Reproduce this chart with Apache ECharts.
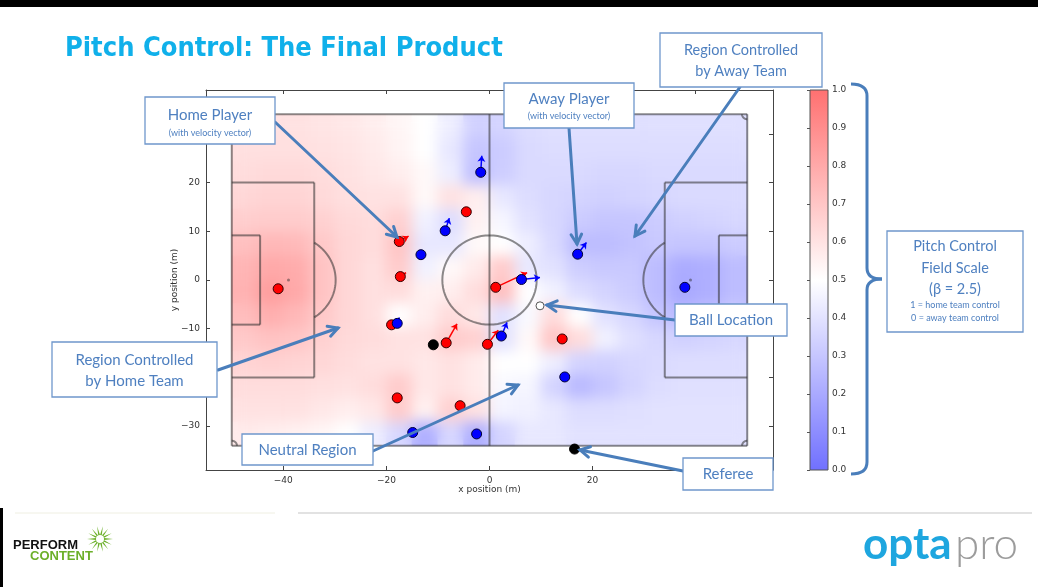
<!DOCTYPE html>
<html>
<head>
<meta charset="utf-8">
<script src="https://cdn.jsdelivr.net/npm/echarts@6/dist/echarts.min.js"></script>
<style>
html, body { margin: 0; padding: 0; background: #fff; }
#wrap { position: relative; width: 1038px; height: 587px; overflow: hidden; }
.layer { position: absolute; left: 0; top: 0; width: 1038px; height: 587px; }
</style>
</head>
<body>
<div id="wrap">
  <div id="fieldSharp" class="layer"></div>
  <div id="fieldSoft" class="layer"></div>
  <div id="chart" class="layer"></div>
</div>
<script>
// pitch control surface (1 = home control, 0 = away control)
var fieldX = [-47.5, -42.5, -37.5, -32.5, -27.5, -22.5, -17.5, -12.5, -7.5, -2.5,
              2.5, 7.5, 12.5, 17.5, 22.5, 27.5, 32.5, 37.5, 42.5, 47.5]
var fieldY = [31.57, 26.71, 21.86, 17.0, 12.14, 7.29, 2.43, -2.43, -7.29, -12.14, -17.0, -21.86, -26.71, -31.57]
var field = [
  [0.60,0.60,0.60,0.59,0.58,0.56,0.53,0.50,0.44,0.34,0.35,0.38,0.39,0.39,0.39,0.39,0.39,0.39,0.39,0.39],
  [0.61,0.61,0.61,0.60,0.59,0.57,0.54,0.50,0.42,0.30,0.32,0.37,0.38,0.38,0.38,0.38,0.38,0.38,0.38,0.38],
  [0.62,0.63,0.63,0.62,0.60,0.58,0.56,0.52,0.44,0.28,0.33,0.37,0.37,0.37,0.36,0.36,0.37,0.37,0.37,0.37],
  [0.64,0.65,0.65,0.63,0.61,0.60,0.60,0.52,0.60,0.56,0.42,0.38,0.36,0.35,0.34,0.35,0.36,0.37,0.37,0.37],
  [0.67,0.68,0.68,0.66,0.63,0.62,0.66,0.45,0.38,0.55,0.47,0.40,0.36,0.32,0.30,0.30,0.32,0.34,0.35,0.36],
  [0.72,0.75,0.74,0.69,0.64,0.62,0.70,0.42,0.42,0.52,0.50,0.44,0.37,0.27,0.27,0.29,0.31,0.30,0.30,0.32],
  [0.76,0.80,0.79,0.71,0.64,0.61,0.68,0.45,0.52,0.57,0.68,0.42,0.40,0.33,0.31,0.31,0.27,0.21,0.22,0.27],
  [0.77,0.84,0.80,0.71,0.64,0.61,0.62,0.55,0.56,0.62,0.72,0.50,0.45,0.38,0.35,0.32,0.27,0.20,0.22,0.27],
  [0.73,0.78,0.75,0.69,0.64,0.61,0.50,0.56,0.62,0.58,0.40,0.48,0.62,0.50,0.40,0.36,0.30,0.26,0.28,0.32],
  [0.69,0.71,0.70,0.66,0.63,0.62,0.60,0.60,0.68,0.66,0.40,0.52,0.70,0.62,0.45,0.39,0.36,0.34,0.35,0.36],
  [0.65,0.66,0.65,0.64,0.62,0.60,0.60,0.58,0.60,0.57,0.50,0.50,0.44,0.35,0.34,0.36,0.37,0.38,0.38,0.38],
  [0.62,0.62,0.62,0.61,0.60,0.62,0.68,0.58,0.60,0.57,0.48,0.47,0.35,0.26,0.30,0.35,0.38,0.39,0.39,0.39],
  [0.60,0.60,0.60,0.58,0.56,0.58,0.68,0.55,0.66,0.60,0.46,0.45,0.42,0.38,0.38,0.39,0.40,0.40,0.40,0.40],
  [0.57,0.56,0.55,0.53,0.50,0.44,0.36,0.22,0.36,0.22,0.35,0.42,0.42,0.40,0.40,0.40,0.40,0.40,0.40,0.40]
]

// players (m) and velocity vectors (end offset, m)
var homeX  = [-41.0, -17.5, -17.3, -19.0, -8.4, -0.4, 1.2, -4.5, -17.9, -5.7, 14.1]
var homeY  = [-1.8, 7.9, 0.7, -9.2, -12.9, -13.2, -1.5, 14.0, -24.2, -25.8, -12.1]
var homeVx = [0, 1.8, 1.1, 0, 2.1, 2.1, 6.1, 0.6, 0, 0, 0]
var homeVy = [0, 1.1, 0.8, 0, 3.9, 2.9, 3.0, 0.6, 0, 0, 0]
var awayX  = [-17.9, 2.3, 6.2, -1.7, -8.6, -13.3, -14.9, -2.5, 14.6, 37.9, 17.1]
var awayY  = [-8.9, -11.5, 0.1, 22.1, 10.1, 5.2, -31.3, -31.6, -19.9, -1.5, 5.3]
var awayVx = [0.4, 1.1, 3.6, 0.2, 0.8, 0.9, 0.9, 0.9, 0, 0, 1.7]
var awayVy = [1.2, 2.8, 0.4, 3.4, 2.6, -0.1, 0, 0, 0, 0, 2.4]
var refX = [-10.9, 16.5]
var refY = [-13.3, -34.7]
var ball = [9.8, -5.3]

var xTicks = [-40, -20, 0, 20, 40]
var yTicks = [-30, -20, -10, 0, 10, 20, 30]
var cbarTicks = [0, 0.1, 0.2, 0.3, 0.4, 0.5, 0.6, 0.7, 0.8, 0.9, 1.0]

// pitch markings (m)
var pitchLines = [
  [-50, -34, 50, -34], [50, -34, 50, 34], [50, 34, -50, 34], [-50, 34, -50, -34],
  [0, -34, 0, 34],
  [-50, 20, -34, 20], [-34, 20, -34, -20], [-34, -20, -50, -20],
  [-50, 9.16, -44.5, 9.16], [-44.5, 9.16, -44.5, -9.16], [-44.5, -9.16, -50, -9.16],
  [50, 20, 34, 20], [34, 20, 34, -20], [34, -20, 50, -20],
  [50, 9.16, 44.5, 9.16], [44.5, 9.16, 44.5, -9.16], [44.5, -9.16, 50, -9.16]
]
var pitchArcs = [
  [0, 0, 9.15, 0, 360], [-39, 0, 9.15, -56.9, 56.9], [39, 0, 9.15, 123.1, 236.9],
  [-50, -34, 1, 0, 90], [50, -34, 1, 90, 180], [50, 34, 1, 180, 270], [-50, 34, 1, 270, 360]
]
var penaltySpots = [[-39, 0], [39, 0]]

var cmap = ['#7070ff', '#ffffff', '#ff7070']
var blue = '#4a7ebb'
var boxText = '#4f80c0'
var tickFont = 'DejaVu Sans'

function minus(v) { return v < 0 ? '\u2212' + Math.abs(v) : String(v) }

var gridMain = { left: 206, top: 90, width: 567, height: 380 }

// ---------- heat field ----------
var fieldData = []
for (var r = 0; r < fieldY.length; r++) {
  for (var c = 0; c < fieldX.length; c++) {
    fieldData.push([fieldX[c], fieldY[r], field[r][c]])
  }
}
var cellW = fieldX[1] - fieldX[0]
var cellH = fieldY[0] - fieldY[1]

var fieldOption = {
  animation: false,
  grid: gridMain,
  xAxis: { type: 'value', min: -55, max: 55, show: false },
  yAxis: { type: 'value', min: -39, max: 39, show: false },
  visualMap: { show: false, type: 'continuous', min: 0, max: 1, dimension: 2, seriesIndex: 0, inRange: { color: cmap } },
  series: [{
    type: 'custom',
    data: fieldData,
    renderItem: function (params, api) {
      var x = api.value(0), y = api.value(1)
      var p0 = api.coord([x - cellW / 2, y + cellH / 2])
      var p1 = api.coord([x + cellW / 2, y - cellH / 2])
      var col = api.visual('color')
      return {
        type: 'rect',
        shape: { x: p0[0], y: p0[1], width: p1[0] - p0[0], height: p1[1] - p0[1] },
        style: { fill: col, stroke: col, lineWidth: 0.8 }
      }
    }
  }]
}

var sharp = echarts.init(document.getElementById('fieldSharp'))
sharp.setOption(fieldOption)
var softDom = document.getElementById('fieldSoft')
softDom.style.filter = 'blur(7px)'
var soft = echarts.init(softDom)
soft.setOption(fieldOption)
var tl = soft.convertToPixel({ gridIndex: 0 }, [-50, 34])
var br = soft.convertToPixel({ gridIndex: 0 }, [50, -34])
softDom.style.clipPath = 'inset(' + tl[1] + 'px ' + (1038 - br[0]) + 'px ' + (587 - br[1]) + 'px ' + tl[0] + 'px)'

// ---------- main chart ----------
function arrowData(xs, ys, vxs, vys) {
  var out = []
  xs.forEach(function (x, i) {
    if (vxs[i] || vys[i]) out.push({ coords: [[x, ys[i]], [x + vxs[i], ys[i] + vys[i]]] })
  })
  return out
}
function pts(xs, ys) { return xs.map(function (x, i) { return [x, ys[i]] }) }

var lineStyleLines = { stroke: 'rgba(45,45,45,0.55)', lineWidth: 2, fill: null }

function annBox(x, y, w, h, lines) {
  var children = [{ type: 'rect', z: 50, shape: { x: x, y: y, width: w, height: h }, style: { fill: '#fff', stroke: '#6f97cc', lineWidth: 1.3 } }]
  lines.forEach(function (l) {
    children.push({ type: 'text', z: 51, x: x + w / 2, y: l[1], style: { text: l[0], fill: boxText, font: l[2] + 'px Lato, "Open Sans", sans-serif', align: 'center', verticalAlign: 'middle' } })
  })
  return { type: 'group', children: children }
}
function annArrow(x1, y1, x2, y2) {
  var a = Math.atan2(y1 - y2, x1 - x2), L = 11, s = 0.5
  return {
    type: 'group',
    children: [
      { type: 'line', z: 45, shape: { x1: x1, y1: y1, x2: x2, y2: y2 }, style: { stroke: blue, lineWidth: 3, lineCap: 'round' } },
      { type: 'polyline', z: 45, shape: { points: [[x2 + L * Math.cos(a + s), y2 + L * Math.sin(a + s)], [x2, y2], [x2 + L * Math.cos(a - s), y2 + L * Math.sin(a - s)]] },
        style: { stroke: blue, lineWidth: 3, lineCap: 'round', lineJoin: 'miter', fill: null } }
    ]
  }
}
function starburst(cx, cy, n, r1, r2) {
  var p = []
  for (var i = 0; i < n * 2; i++) {
    var rr = i % 2 ? r2 : r1, t = Math.PI * i / n
    p.push([cx + rr * Math.cos(t), cy + rr * Math.sin(t)])
  }
  return p
}
var bracketStyle = { stroke: blue, lineWidth: 3, fill: null }
var bracket = {
  type: 'group',
  children: [
    { type: 'bezierCurve', z: 45, shape: { x1: 851, y1: 84, cpx1: 867, cpy1: 84, x2: 867, y2: 96 }, style: bracketStyle },
    { type: 'line', z: 45, shape: { x1: 867, y1: 96, x2: 867, y2: 268 }, style: bracketStyle },
    { type: 'bezierCurve', z: 45, shape: { x1: 867, y1: 268, cpx1: 867, cpy1: 279, x2: 882, y2: 279 }, style: bracketStyle },
    { type: 'bezierCurve', z: 45, shape: { x1: 882, y1: 279, cpx1: 867, cpy1: 279, x2: 867, y2: 290 }, style: bracketStyle },
    { type: 'line', z: 45, shape: { x1: 867, y1: 290, x2: 867, y2: 462 }, style: bracketStyle },
    { type: 'bezierCurve', z: 45, shape: { x1: 867, y1: 462, cpx1: 867, cpy1: 474, x2: 851, y2: 474 }, style: bracketStyle }
  ]
}

var axisLineStyle = { color: '#444', width: 1 }
var option = {
  backgroundColor: 'transparent',
  animation: false,
  grid: [gridMain, { left: 810, top: 90, width: 18, height: 380 }],
  xAxis: [
    { gridIndex: 0, type: 'value', min: -55, max: 55, position: 'bottom',
      name: 'x position (m)', nameLocation: 'middle', nameGap: 15, nameMoveOverlap: false,
      nameTextStyle: { fontFamily: tickFont, fontSize: 9, color: '#333' },
      axisLine: { onZero: false, lineStyle: axisLineStyle },
      axisTick: { inside: true, length: 4, customValues: xTicks, lineStyle: axisLineStyle },
      axisLabel: { customValues: xTicks, formatter: minus, fontFamily: tickFont, fontSize: 9, color: '#333', margin: 6 },
      splitLine: { show: false } },
    { gridIndex: 0, type: 'value', min: -55, max: 55, position: 'top',
      axisLine: { onZero: false, lineStyle: axisLineStyle },
      axisTick: { inside: true, length: 4, customValues: xTicks, lineStyle: axisLineStyle },
      axisLabel: { show: false }, splitLine: { show: false } },
    { gridIndex: 1, type: 'value', min: 0, max: 1, show: false }
  ],
  yAxis: [
    { gridIndex: 0, type: 'value', min: -39, max: 39, position: 'left',
      name: 'y position (m)', nameLocation: 'middle', nameGap: 27, nameMoveOverlap: false,
      nameTextStyle: { fontFamily: tickFont, fontSize: 9, color: '#333' },
      axisLine: { onZero: false, lineStyle: axisLineStyle },
      axisTick: { inside: true, length: 4, customValues: yTicks, lineStyle: axisLineStyle },
      axisLabel: { customValues: yTicks, formatter: minus, fontFamily: tickFont, fontSize: 9, color: '#333', margin: 6 },
      splitLine: { show: false } },
    { gridIndex: 0, type: 'value', min: -39, max: 39, position: 'right',
      axisLine: { onZero: false, lineStyle: axisLineStyle },
      axisTick: { inside: true, length: 4, customValues: yTicks, lineStyle: axisLineStyle },
      axisLabel: { show: false }, splitLine: { show: false } },
    { gridIndex: 1, type: 'value', min: 0, max: 1, position: 'right',
      axisLine: { show: false },
      axisTick: { inside: true, length: 3, customValues: cbarTicks, lineStyle: { color: '#555' } },
      axisLabel: { customValues: cbarTicks, formatter: function (v) { return v.toFixed(1) }, fontFamily: tickFont, fontSize: 9, color: '#333', margin: 4 },
      splitLine: { show: false } }
  ],
  series: [
    { // pitch lines
      type: 'custom', xAxisIndex: 0, yAxisIndex: 0, z: 2, data: pitchLines,
      renderItem: function (params, api) {
        var a = api.coord([api.value(0), api.value(1)]), b = api.coord([api.value(2), api.value(3)])
        return { type: 'line', shape: { x1: a[0], y1: a[1], x2: b[0], y2: b[1] }, style: lineStyleLines }
      }
    },
    { // pitch arcs
      type: 'custom', xAxisIndex: 0, yAxisIndex: 0, z: 2, data: pitchArcs,
      renderItem: function (params, api) {
        var cx = api.value(0), cy = api.value(1), rad = api.value(2), a0 = api.value(3), a1 = api.value(4)
        var p = []
        for (var i = 0; i <= 72; i++) {
          var t = (a0 + (a1 - a0) * i / 72) * Math.PI / 180
          p.push(api.coord([cx + rad * Math.cos(t), cy + rad * Math.sin(t)]))
        }
        return { type: 'polyline', shape: { points: p }, style: lineStyleLines }
      }
    },
    { type: 'scatter', xAxisIndex: 0, yAxisIndex: 0, z: 2, data: penaltySpots, symbolSize: 3,
      itemStyle: { color: 'rgba(45,45,45,0.6)' }, silent: true },
    { type: 'lines', coordinateSystem: 'cartesian2d', xAxisIndex: 0, yAxisIndex: 0, z: 3,
      data: arrowData(homeX, homeY, homeVx, homeVy), symbol: ['none', 'arrow'], symbolSize: 6,
      lineStyle: { color: '#ff0000', width: 1.5, opacity: 1 } },
    { type: 'lines', coordinateSystem: 'cartesian2d', xAxisIndex: 0, yAxisIndex: 0, z: 3,
      data: arrowData(awayX, awayY, awayVx, awayVy), symbol: ['none', 'arrow'], symbolSize: 6,
      lineStyle: { color: '#0000ff', width: 1.5, opacity: 1 } },
    { name: 'Home', type: 'scatter', xAxisIndex: 0, yAxisIndex: 0, z: 4, data: pts(homeX, homeY), symbolSize: 10,
      itemStyle: { color: '#ff0000', borderColor: '#300', borderWidth: 1, opacity: 1 } },
    { name: 'Away', type: 'scatter', xAxisIndex: 0, yAxisIndex: 0, z: 5, data: pts(awayX, awayY), symbolSize: 10,
      itemStyle: { color: '#0000ff', borderColor: '#003', borderWidth: 1, opacity: 1 } },
    { name: 'Referee', type: 'scatter', xAxisIndex: 0, yAxisIndex: 0, z: 5, data: pts(refX, refY), symbolSize: 10,
      itemStyle: { color: '#000', borderColor: '#000', borderWidth: 1, opacity: 1 } },
    { name: 'Ball', type: 'scatter', xAxisIndex: 0, yAxisIndex: 0, z: 5, data: [ball], symbolSize: 8,
      itemStyle: { color: '#fff', borderColor: '#555', borderWidth: 1, opacity: 1 } },
    { // colour bar
      type: 'custom', xAxisIndex: 2, yAxisIndex: 2, data: [[0, 0, 1, 1]],
      renderItem: function (params, api) {
        var p0 = api.coord([api.value(0), api.value(3)]), p1 = api.coord([api.value(2), api.value(1)])
        return {
          type: 'rect',
          shape: { x: p0[0], y: p0[1], width: p1[0] - p0[0], height: p1[1] - p0[1] },
          style: {
            fill: { type: 'linear', x: 0, y: 0, x2: 0, y2: 1, colorStops: [
              { offset: 0, color: cmap[2] }, { offset: 0.5, color: cmap[1] }, { offset: 1, color: cmap[0] }] },
            stroke: '#555', lineWidth: 1
          }
        }
      }
    }
  ],
  graphic: [
    { type: 'rect', z: 60, shape: { x: 0, y: 0, width: 1038, height: 7 }, style: { fill: '#000' } },
    { type: 'rect', z: 60, shape: { x: 0, y: 508, width: 3, height: 79 }, style: { fill: '#000' } },
    { type: 'text', x: 65, y: 49, z: 50, style: { text: 'Pitch Control: The Final Product', fill: '#10b0ea',
      font: 'bold 27px "DejaVu Sans Condensed", sans-serif', verticalAlign: 'middle' } },
    annArrow(275, 122, 397, 237),
    annArrow(569, 128, 577, 244),
    annArrow(740, 87, 635, 236),
    annArrow(218, 370, 338, 328),
    annArrow(373, 451, 518, 385),
    annArrow(675, 320, 547, 305),
    annArrow(683, 471, 580, 450),
    annBox(145, 97, 130, 47, [['Home Player', 115, 15], ['(with velocity vector)', 133, 9]]),
    annBox(504, 83, 130, 45, [['Away Player', 99, 15], ['(with velocity vector)', 116, 9]]),
    annBox(660, 33, 162, 54, [['Region Controlled', 50, 14.5], ['by Away Team', 71, 14.5]]),
    annBox(52, 342, 165, 55, [['Region Controlled', 360, 15], ['by Home Team', 381, 15]]),
    annBox(242, 434, 131, 31, [['Neutral Region', 450, 15]]),
    annBox(675, 304, 112, 32, [['Ball Location', 320, 15]]),
    annBox(683, 458, 90, 32, [['Referee', 474, 15]]),
    annBox(887, 231, 136, 101, [['Pitch Control', 246, 14.5], ['Field Scale', 268, 14.5], ['(\u03b2 = 2.5)', 289, 14.5],
      ['1 = home team control', 305, 9], ['0 = away team control', 318, 9]]),
    bracket,
    // footer
    { type: 'line', shape: { x1: 298, y1: 513, x2: 1032, y2: 513 }, style: { stroke: '#e2e2e2', lineWidth: 2 } },
    { type: 'line', shape: { x1: 15, y1: 513, x2: 275, y2: 513 }, style: { stroke: '#efefe2', lineWidth: 1 } },
    { type: 'text', x: 13, y: 545, style: { text: 'PERFORM', fill: '#111', font: 'bold 13px "Liberation Sans", sans-serif', verticalAlign: 'middle' } },
    { type: 'text', x: 30, y: 556, style: { text: 'CONTENT', fill: '#6cb02a', font: 'bold 13px "Liberation Sans", sans-serif', verticalAlign: 'middle' } },
    { type: 'polygon', shape: { points: starburst(100, 539, 14, 13, 4) }, style: { fill: '#6cb02a' } },
    { type: 'circle', shape: { cx: 100, cy: 539, r: 4 }, style: { fill: '#fff' } },
    { type: 'text', x: 863, y: 545, style: { text: 'opta', fill: '#1ea6df', font: 'bold 44px Lato, sans-serif', verticalAlign: 'middle' } },
    { type: 'text', x: 955, y: 545, style: { text: 'pro', fill: '#9c9c9c', font: '300 44px Lato, sans-serif', verticalAlign: 'middle' } }
  ]
}

var chart = echarts.init(document.getElementById('chart'))
chart.setOption(option)
</script>
</body>
</html>
